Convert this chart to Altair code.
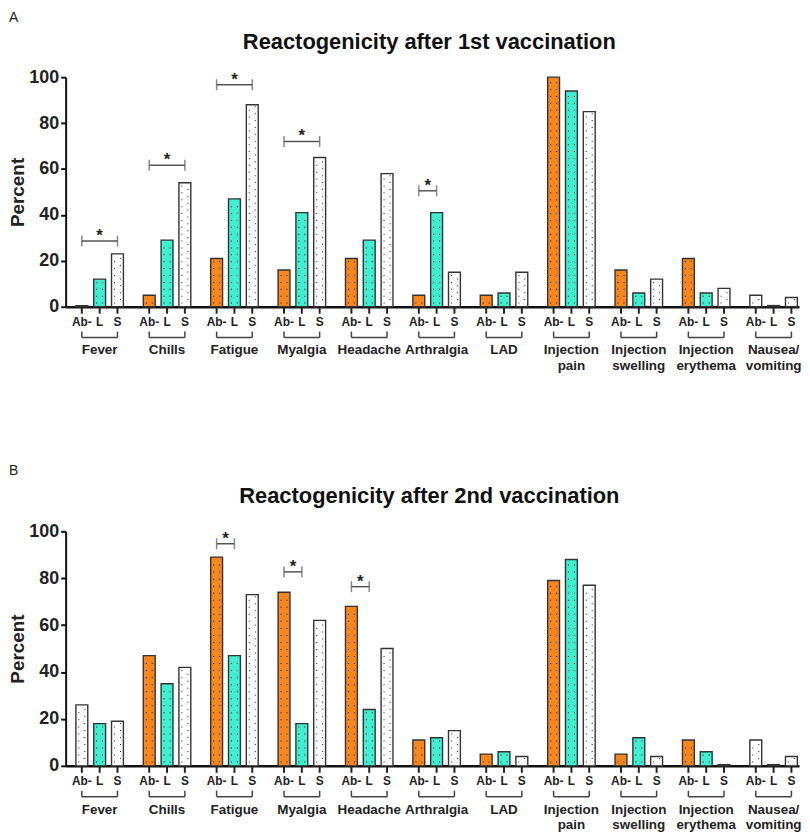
import altair as alt
import pandas as pd

FONT = "Liberation Sans"
GROUPS = ["Fever", "Chills", "Fatigue", "Myalgia", "Headache", "Arthralgia", "LAD",
          "Injection pain", "Injection swelling", "Injection erythema", "Nausea/ vomiting"]
GROUP_LABELS = ["Fever", "Chills", "Fatigue", "Myalgia", "Headache", "Arthralgia", "LAD",
                "Injection\npain", "Injection\nswelling", "Injection\nerythema", "Nausea/\nvomiting"]
SUBS = ["Ab-", "L", "S"]

# Panel A: after 1st vaccination (percent)
A_AB = [0.5, 5, 21, 16, 21, 5, 5, 100, 16, 21, 5]
A_L = [12, 29, 47, 41, 29, 41, 6, 94, 6, 6, 0.5]
A_S = [23, 54, 88, 65, 58, 15, 15, 85, 12, 8, 4]
A_AB_FILL = ["o", "o", "o", "o", "o", "o", "o", "o", "o", "o", "w"]
A_SIG_GROUP = ["Fever", "Chills", "Fatigue", "Myalgia", "Arthralgia"]
A_SIG_TO = ["S", "S", "S", "S", "L"]
A_SIG_Y = [28.6, 61.6, 96.7, 72, 50.5]

# Panel B: after 2nd vaccination (percent)
B_AB = [26, 47, 89, 74, 68, 11, 5, 79, 5, 11, 11]
B_L = [18, 35, 47, 18, 24, 12, 6, 88, 12, 6, 0.5]
B_S = [19, 42, 73, 62, 50, 15, 4, 77, 4, 0.5, 4]
B_AB_FILL = ["w", "o", "o", "o", "o", "o", "o", "o", "o", "o", "w"]
B_SIG_GROUP = ["Fatigue", "Myalgia", "Headache"]
B_SIG_TO = ["L", "L", "L"]
B_SIG_Y = [94.7, 82.7, 76.4]

ORANGE = "#F7861F"
TEAL = "#3FEFCF"
WHITE = "#FFFFFF"
INK = "#222222"
W = 738

# small square "stipple" dots, left and right column inside a 12px bar
DOT_LEFT = "M-1.17,-0.17H-0.83V0.17H-1.17Z"
DOT_RIGHT = "M0.83,-0.17H1.17V0.17H0.83Z"


def panel(ab, l, s, ab_fill, sig_g, sig_to, sig_y, title, letter, h, letter_y):
    rows = []
    for i, g in enumerate(GROUPS):
        rows.append({"group": g, "sub": "Ab-", "value": ab[i], "fill": ab_fill[i]})
        rows.append({"group": g, "sub": "L", "value": l[i], "fill": "t"})
        rows.append({"group": g, "sub": "S", "value": s[i], "fill": "w"})
    df = pd.DataFrame(rows)
    labels = pd.DataFrame({"group": GROUPS, "label": GROUP_LABELS})
    sig_rows = []
    for i, g in enumerate(sig_g):
        for end in ["Ab-", sig_to[i]]:
            sig_rows.append({"group": g, "sub": end, "value": sig_y[i], "id": g, "to": sig_to[i]})
    sig = pd.DataFrame(sig_rows)
    stars = pd.DataFrame({"group": sig_g, "to": sig_to, "value": sig_y,
                          "mid": ["L" if t == "S" else "Ab-" for t in sig_to]})

    X = alt.X("group:N", sort=GROUPS,
              scale=alt.Scale(domain=GROUPS, paddingInner=0.295, paddingOuter=0.0885, align=0.86),
              axis=alt.Axis(labels=False, ticks=False, title=None, domainColor="#111111",
                            domainWidth=2.5))
    off_scale = alt.Scale(domain=SUBS, paddingInner=1 / 3, paddingOuter=0)
    XO = alt.XOffset("sub:N", sort=SUBS, scale=off_scale)
    Y = alt.Y("value:Q", scale=alt.Scale(domain=[0, 100]),
              axis=alt.Axis(values=[0, 20, 40, 60, 80, 100], grid=False, title="Percent",
                            domainColor="#111111", domainWidth=2, tickColor="#111111", tickWidth=2,
                            tickSize=5, labelFont=FONT, labelFontSize=18, labelFontWeight="bold",
                            labelColor=INK, labelPadding=2, titleFont=FONT, titleFontSize=19,
                            titleFontWeight="bold", titleColor=INK, titlePadding=1))

    bars = alt.Chart(df).mark_bar(stroke="#333333", strokeWidth=1.4).encode(
        x=X, xOffset=XO, y=Y,
        fill=alt.Fill("fill:N", scale=alt.Scale(domain=["o", "t", "w"], range=[ORANGE, TEAL, WHITE]),
                      legend=None),
    )
    # stippled texture inside the bars (two columns of small dots, staggered on white bars)
    dots_a = alt.Chart(df).transform_calculate(
        d="sequence(1.6, datum.value - 0.8, 3)").transform_flatten(["d"]).mark_point(
        shape=DOT_LEFT, size=36, filled=True, color="#111111", opacity=0.9, strokeWidth=0).encode(
        x=X, xOffset=XO, y=alt.Y("d:Q", title="Percent"))
    dots_b = alt.Chart(df).transform_calculate(
        d="sequence(datum.fill == 'w' ? 3.1 : 1.6, datum.value - 0.8, 3)").transform_flatten(["d"]).mark_point(
        shape=DOT_RIGHT, size=36, filled=True, color="#111111", opacity=0.9, strokeWidth=0).encode(
        x=X, xOffset=XO, y=alt.Y("d:Q", title="Percent"))

    ticks = alt.Chart(df).mark_rule(color=INK, strokeWidth=2).encode(
        x=X, xOffset=XO, y=alt.value(h), y2=alt.value(h + 7))
    sublab = alt.Chart(df).mark_text(font=FONT, fontSize=12, fontWeight="bold", color=INK,
                                     baseline="middle").encode(
        x=X, xOffset=XO, y=alt.value(h + 15), text="sub:N")
    ends_df = df[df["sub"].isin(["Ab-", "S"])]
    brk_ends = alt.Chart(ends_df).mark_rule(color="#444444", strokeWidth=1.5).encode(
        x=X, xOffset=XO, y=alt.value(h + 25), y2=alt.value(h + 31))
    brk_line = alt.Chart(ends_df).mark_line(color="#444444", strokeWidth=1.5).encode(
        x=X, xOffset=XO, y=alt.value(h + 31), detail="group:N")
    glab = alt.Chart(labels).mark_text(font=FONT, fontSize=13.5, fontWeight="bold", color=INK,
                                       baseline="top", lineBreak="\n", lineHeight=16).encode(
        x=X, y=alt.value(h + 37), text="label:N")

    sig_line = alt.Chart(sig).mark_line(color="#555555", strokeWidth=1.5).encode(
        x=X, xOffset=XO, y=alt.Y("value:Q"), detail="id:N")
    sig_ends = alt.Chart(sig).mark_tick(orient="vertical", size=11, thickness=1.5,
                                        color="#555555").encode(x=X, xOffset=XO, y=alt.Y("value:Q"))
    star_s = alt.Chart(stars).transform_filter("datum.to == 'S'").mark_text(
        text="*", font=FONT, fontSize=17, fontWeight="bold", color=INK, baseline="alphabetic").encode(
        x=X, xOffset=alt.XOffset("mid:N", sort=SUBS, scale=off_scale), y=alt.Y("value:Q"))
    star_l = alt.Chart(stars).transform_filter("datum.to == 'L'").mark_text(
        text="*", font=FONT, fontSize=17, fontWeight="bold", color=INK, baseline="alphabetic", dx=9).encode(
        x=X, xOffset=alt.XOffset("mid:N", sort=SUBS, scale=off_scale), y=alt.Y("value:Q"))
    let = alt.Chart(pd.DataFrame({"letter": [letter]})).mark_text(
        font=FONT, fontSize=14, color=INK, align="left", baseline="top").encode(
        x=alt.value(-57), y=alt.value(letter_y), text="letter:N")
    ttl = alt.Chart(pd.DataFrame({"title": [title]})).mark_text(
        font=FONT, fontSize=22, fontWeight="bold", color="#111111", align="center",
        baseline="alphabetic").encode(
        x=alt.value(W / 2 - 3), y=alt.value(-28), text="title:N")

    return alt.layer(bars, dots_a, dots_b, ticks, sublab, brk_ends, brk_line, glab, sig_line, sig_ends,
                     star_s, star_l, let, ttl).properties(width=W, height=h)


top = panel(A_AB, A_L, A_S, A_AB_FILL, A_SIG_GROUP, A_SIG_TO, A_SIG_Y,
            "Reactogenicity after 1st vaccination", "A", 231, -67)
bottom = panel(B_AB, B_L, B_S, B_AB_FILL, B_SIG_GROUP, B_SIG_TO, B_SIG_Y,
               "Reactogenicity after 2nd vaccination", "B", 236, -68)

chart = alt.vconcat(top, bottom, spacing=91).properties(
    padding={"left": 0, "right": 0, "top": 0, "bottom": 0}
).configure_view(stroke=None)

chart.save("out.html", embed_options={"renderer": "svg", "actions": False})
